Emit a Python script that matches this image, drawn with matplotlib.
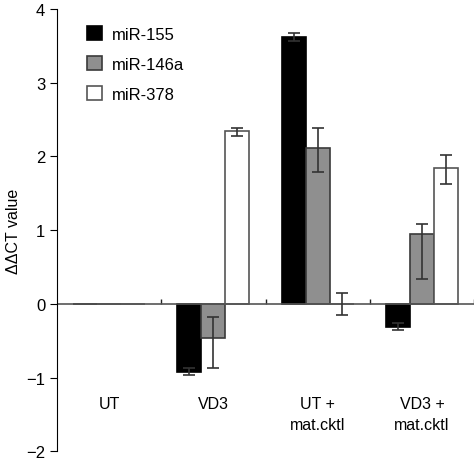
import numpy as np
import matplotlib.pyplot as plt

plt.rcParams['font.family'] = ['Liberation Sans', 'DejaVu Sans']

# data
groups = ["UT", "VD3", "UT +\nmat.cktl", "VD3 +\nmat.cktl"]
series = ["miR-155", "miR-146a", "miR-378"]
mir155 = [0.0, -0.92, 3.62, -0.31]
mir146a = [0.0, -0.47, 2.12, 0.95]
mir378 = [0.0, 2.34, 0.0, 1.84]
# asymmetric errors: (lower, upper)
err155_lo = [0.0, 0.05, 0.05, 0.05]
err155_hi = [0.0, 0.05, 0.05, 0.05]
err146a_lo = [0.0, 0.40, 0.33, 0.61]
err146a_hi = [0.0, 0.29, 0.27, 0.14]
err378_lo = [0.0, 0.06, 0.15, 0.21]
err378_hi = [0.0, 0.05, 0.15, 0.18]

fills = ["#000000", "#8f8f8f", "#ffffff"]
edges = ["#000000", "#3a3a3a", "#555555"]

fig = plt.figure(figsize=(4.75, 4.6), dpi=100)
ax = fig.add_axes([0.12, 0.017, 0.878, 0.961])

x = np.arange(len(groups)) + 0.5
w = 0.23
vals = [mir155, mir146a, mir378]
lows = [err155_lo, err146a_lo, err378_lo]
highs = [err155_hi, err146a_hi, err378_hi]
for i in range(3):
    pos = x + (i - 1) * w
    ax.bar(pos, vals[i], w, color=fills[i], edgecolor=edges[i], linewidth=1.2,
           label=series[i], zorder=2)
    yerr = np.array([lows[i], highs[i]])
    mask = yerr.sum(axis=0) > 0
    ax.errorbar(pos[mask], np.array(vals[i])[mask], yerr=yerr[:, mask], fmt='none',
                ecolor='#333333', elinewidth=1.2, capsize=4, capthick=1.2, zorder=3)

# zero line with group separators
ax.axhline(0, color='#555555', linewidth=1.2, zorder=2.5)
ax.vlines([1, 2, 3, 4], 0, 0.07, color='#222222', linewidth=1.0, zorder=1)

for xi, g in zip(x, groups):
    ax.text(xi, -1.25, g, ha='center', va='top', fontsize=11.5, linespacing=1.5)

ax.set_xlim(0, 4)
ax.set_ylim(-2, 4)
ax.set_yticks([-2, -1, 0, 1, 2, 3, 4])
ax.set_yticklabels(["\u22122", "\u22121", "0", "1", "2", "3", "4"])
ax.set_xticks([])
ax.tick_params(axis='y', direction='out', length=5, labelsize=12)
for s in ['top', 'right', 'bottom']:
    ax.spines[s].set_visible(False)
ax.set_ylabel("\u0394\u0394CT value", fontsize=11.5, labelpad=4)

ax.legend(loc='upper left', bbox_to_anchor=(0.035, 0.995), frameon=False,
          fontsize=12, handlelength=0.9, handleheight=0.9, labelspacing=0.85,
          handletextpad=0.6)

fig.savefig("out.png", dpi=100)
